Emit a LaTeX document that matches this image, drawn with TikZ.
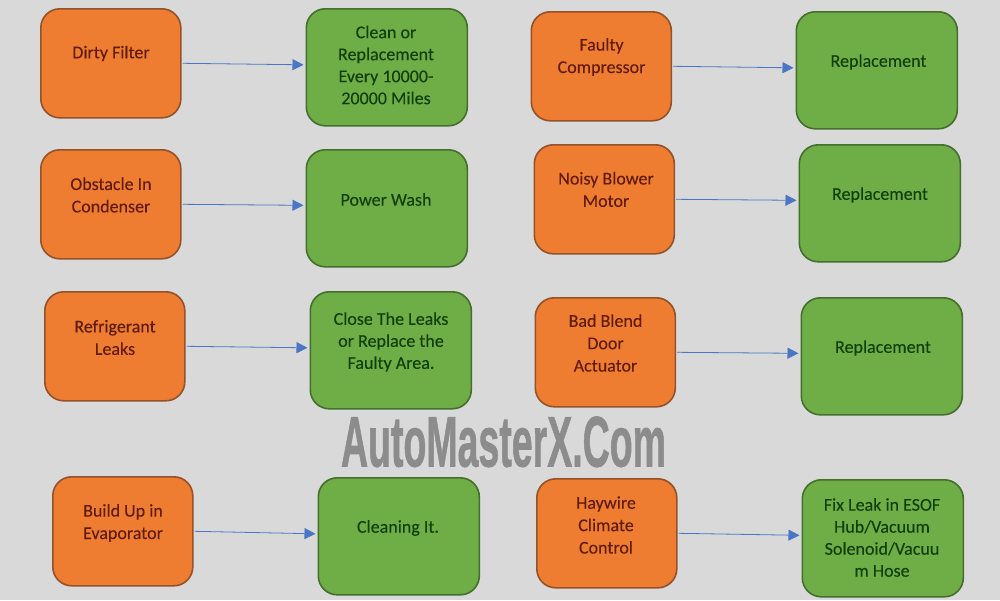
\documentclass[tikz,border=0pt]{standalone}
\usepackage{fontspec}
\setmainfont{Carlito}[FakeBold=0.12]
\newfontfamily\wmfont{Liberation Sans Bold}[FakeBold=1.2]
\usetikzlibrary{arrows.meta}
\definecolor{bgc}{HTML}{D9D9D9}
\definecolor{ofill}{HTML}{EF7D31}
\definecolor{oline}{HTML}{93522A}
\definecolor{otext}{HTML}{601C08}
\definecolor{gfill}{HTML}{6FAD47}
\definecolor{gline}{HTML}{456F2D}
\definecolor{gtext}{HTML}{123F08}
\definecolor{arrowc}{HTML}{4A76C4}
\definecolor{wmc}{HTML}{8C8C8C}
\tikzset{
  x=1pt,y=-1pt,
  box/.style={rounded corners=19pt,line width=1.6pt,inner sep=0pt,anchor=north west},
  obox/.style={box,draw=oline,fill=ofill,minimum width=140pt,minimum height=109pt},
  gbox/.style={box,draw=gline,fill=gfill,minimum width=161pt,minimum height=117pt},
  otxt/.style={text=otext,align=center,font=\fontsize{18}{22.4}\selectfont,inner sep=0pt},
  gtxt/.style={text=gtext,align=center,font=\fontsize{18}{22}\selectfont,inner sep=0pt},
  link/.style={draw=arrowc,line width=0.8pt,-{Triangle[length=11pt,width=11pt]}},
}
\begin{document}
\begin{tikzpicture}
\path[fill=bgc,use as bounding box] (0,0) rectangle (1000,600);
% boxes
\node[obox] (o1) at (40,8) {};
\node[obox] (o2) at (40,149) {};
\node[obox] (o3) at (44,291) {};
\node[obox] (o4) at (52,476) {};
\node[obox] (o5) at (530.5,11) {};
\node[obox] (o6) at (533.5,144) {};
\node[obox] (o7) at (534.5,297) {};
\node[obox] (o8) at (536,478) {};
\node[gbox] (g1) at (305.5,8) {};
\node[gbox] (g2) at (305.5,149) {};
\node[gbox] (g3) at (309.5,291) {};
\node[gbox] (g4) at (317.5,477) {};
\node[gbox] (g5) at (795.5,11) {};
\node[gbox] (g6) at (798.5,144) {};
\node[gbox] (g7) at (800.5,297) {};
\node[gbox] (g8) at (801.5,479) {};
% labels
\node[otxt] (to1) at (111,53.5) {Dirty Filter};
\node[otxt] (to2) at (111,195) {Obstacle In\\Condenser};
\node[otxt] (to3) at (115,337.5) {Refrigerant\\Leaks};
\node[otxt] (to4) at (123,523) {Build Up in\\Evaporator};
\node[otxt] (to5) at (601.5,57) {Faulty\\Compressor};
\node[otxt] (to6) at (606,189.5) {Noisy Blower\\Motor};
\node[otxt] (to7) at (605.5,343) {Bad Blend\\Door\\Actuator};
\node[otxt] (to8) at (606,525) {Haywire\\Climate\\Control};
\node[gtxt] (tg1) at (386,65) {Clean or\\Replacement\\Every 10000-\\20000 Miles};
\node[gtxt] (tg2) at (386,199.5) {Power Wash};
\node[gtxt] (tg3) at (391,342) {Close The Leaks\\or Replace the\\Faulty Area.};
\node[gtxt] (tg4) at (398,528) {Cleaning It.};
\node[gtxt] (tg5) at (878.5,62) {Replacement};
\node[gtxt] (tg6) at (880,195) {Replacement};
\node[gtxt] (tg7) at (883,348) {Replacement};
\node[gtxt] (tg8) at (882,537.5) {Fix Leak in ESOF\\Hub/Vacuum\\Solenoid/Vacuu\\m Hose};
% watermark
\node[text=wmc,inner sep=0pt,anchor=base] (wm) at (503.5,466.5) {\resizebox{325pt}{50pt}{\fontsize{68}{68}\selectfont\wmfont AutoMasterX.Com}};
% connectors
\draw[link] ([xshift=1pt]o1.east) -- ([xshift=-2pt,yshift=2.5pt]g1.west);
\draw[link] ([xshift=1pt]o2.east) -- ([xshift=-2pt,yshift=3pt]g2.west);
\draw[link] ([xshift=1pt]o3.east) -- ([xshift=-2pt,yshift=2.5pt]g3.west);
\draw[link] ([xshift=1pt]o4.east) -- ([xshift=-2pt,yshift=2.5pt]g4.west);
\draw[link] ([xshift=1pt]o5.east) -- ([xshift=-2pt,yshift=2.5pt]g5.west);
\draw[link] ([xshift=1pt]o6.east) -- ([xshift=-2pt,yshift=3pt]g6.west);
\draw[link] ([xshift=1pt]o7.east) -- ([xshift=-2pt,yshift=3pt]g7.west);
\draw[link] ([xshift=1pt]o8.east) -- ([xshift=-2pt,yshift=3pt]g8.west);
\end{tikzpicture}
\end{document}
